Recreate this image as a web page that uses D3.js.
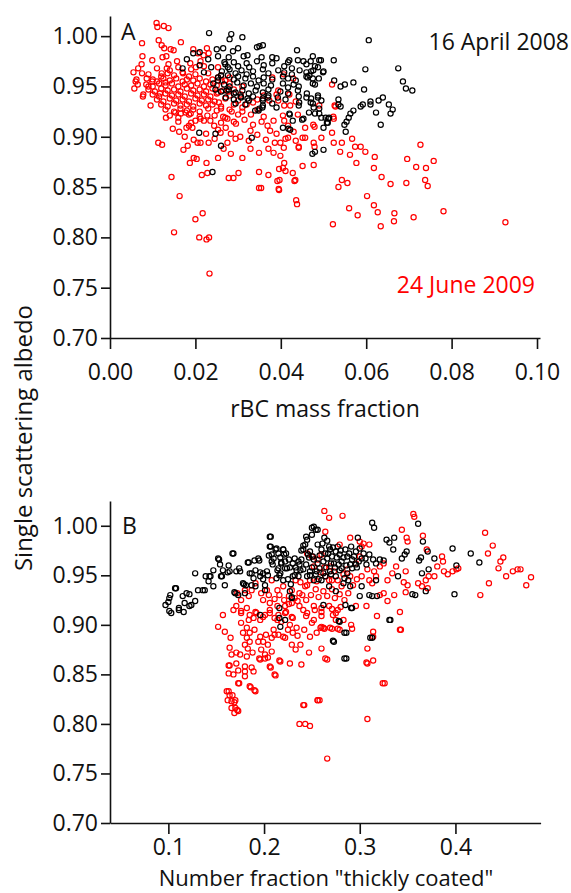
<!DOCTYPE html>
<html lang="en">
<head>
<meta charset="UTF-8">
<title>Single scattering albedo</title>
<script src="https://cdn.jsdelivr.net/npm/d3@7"></script>
<style>
  body { margin: 0; background: #fff; }
  text { font-family: "Open Sans", sans-serif; }
</style>
</head>
<body>
<script>
// ---- data ----
// panel A: [rBC mass fraction, single scattering albedo]
var aBlack = [
  [0.0232,1.003],[0.0284,1.002],[0.031,0.999],[0.028,0.997],[0.0606,0.996],[0.035,0.99],[0.0358,0.991],[0.0265,0.988],[0.025,0.987],[0.03,0.988],[0.0438,0.986],[0.0288,0.985],[0.0344,0.989],
  [0.0675,0.968],[0.0686,0.955],[0.0693,0.948],[0.0708,0.946],[0.0598,0.967],[0.0595,0.947],[0.057,0.954],[0.0524,0.976],[0.0525,0.956],[0.055,0.952],[0.054,0.95],[0.0535,0.937],[0.061,0.935],[0.061,0.932],[0.0623,0.924],[0.0639,0.939],[0.0629,0.936],[0.0653,0.932],[0.0662,0.927],[0.0657,0.923],[0.0634,0.912],[0.0587,0.93],[0.0592,0.932],[0.057,0.926],[0.0563,0.923],[0.0559,0.919],[0.0554,0.915],[0.0549,0.912],[0.0552,0.905],
  [0.017,0.968],[0.018,0.977],[0.0195,0.983],[0.021,0.984],[0.021,0.971],[0.022,0.964],[0.023,0.977],[0.0237,0.969],[0.0242,0.953],[0.0253,0.956],[0.026,0.961],[0.0268,0.974],[0.0276,0.969],[0.0247,0.947],[0.0273,0.946],[0.029,0.943],[0.0294,0.933],[0.0307,0.939],[0.0325,0.936],[0.034,0.926],[0.035,0.928],[0.0358,0.936],[0.037,0.939],[0.039,0.929],[0.042,0.923],[0.0418,0.908],[0.0428,0.916],[0.0405,0.909],
  [0.0209,0.904],[0.0247,0.903],[0.026,0.891],[0.0332,0.899],[0.0474,0.883],[0.048,0.885],[0.05,0.887],[0.024,0.865],
  [0.0443,0.934],[0.046,0.939],[0.047,0.934],[0.0477,0.929],[0.048,0.923],[0.049,0.923],[0.0495,0.919],[0.0505,0.919],[0.049,0.928],[0.05,0.909],[0.051,0.914],[0.045,0.917],[0.0487,0.939],[0.0495,0.936],[0.054,0.93],[0.0513,0.919],
  [0.0494,0.976],[0.0487,0.969],[0.0499,0.964],[0.0489,0.958],[0.048,0.952],[0.0476,0.966],[0.0467,0.961],[0.0471,0.965],[0.0463,0.959],[0.0461,0.943],
  [0.0253,0.98],[0.0278,0.979],[0.0313,0.98],[0.0322,0.981],[0.0355,0.979],[0.038,0.979],[0.039,0.978],[0.042,0.976],[0.044,0.976],[0.0453,0.975],[0.0475,0.98],[0.049,0.976],
  [0.027,0.972],[0.029,0.974],[0.03,0.97],[0.032,0.973],[0.0326,0.969],[0.0344,0.975],[0.036,0.971],[0.038,0.973],[0.0408,0.97],[0.0417,0.974],[0.0426,0.968],[0.046,0.972],[0.047,0.975],[0.048,0.97],
  [0.0262,0.965],[0.028,0.967],[0.0294,0.963],[0.0308,0.966],[0.032,0.962],[0.0335,0.965],[0.0358,0.967],[0.0371,0.963],[0.0394,0.966],[0.0408,0.964],[0.0426,0.962],[0.0444,0.966],[0.046,0.964],[0.05,0.965],
  [0.0253,0.959],[0.0276,0.961],[0.029,0.957],[0.03,0.96],[0.0317,0.958],[0.0335,0.96],[0.0348,0.956],[0.036,0.959],[0.038,0.957],[0.0405,0.96],[0.0417,0.958],[0.0435,0.956],[0.046,0.96],[0.0475,0.958],
  [0.0267,0.952],[0.028,0.95],[0.0298,0.954],[0.0313,0.951],[0.033,0.953],[0.0344,0.95],[0.036,0.953],[0.0377,0.951],[0.0405,0.953],[0.0417,0.949],[0.043,0.952],[0.0442,0.95],[0.0475,0.953],
  [0.026,0.945],[0.0278,0.947],[0.0294,0.944],[0.031,0.946],[0.0325,0.943],[0.0341,0.946],[0.0358,0.944],[0.0371,0.947],[0.0399,0.945],[0.0417,0.943],[0.044,0.946],
  [0.0271,0.939],[0.029,0.937],[0.0306,0.94],[0.0322,0.938],[0.0335,0.94],[0.0358,0.938],[0.0371,0.941],[0.0393,0.939],[0.0411,0.937],[0.0442,0.94],[0.0471,0.938],[0.0487,0.941],
  [0.0317,0.932],[0.0358,0.931],[0.038,0.933],[0.0442,0.931],[0.0475,0.933],[0.0535,0.932],
  [0.0357,0.929],[0.0348,0.926],[0.0421,0.922],[0.0466,0.924],[0.0511,0.918],[0.0508,0.914],[0.0453,0.918],[0.0422,0.907]
];
var aRed = [
  [0.0109,1.013],[0.0111,1.009],[0.0126,1.01],[0.0137,1.008],[0.0075,0.993],[0.0114,0.996],[0.0121,0.991],[0.0127,0.988],[0.0142,0.987],[0.0166,0.994],[0.0076,0.98],[0.0099,0.976],[0.0123,0.979],[0.0132,0.98],[0.0149,0.986],[0.0157,0.975],[0.0137,0.972],[0.0074,0.972],[0.0066,0.968],[0.0055,0.964],[0.0075,0.963],[0.0133,0.968],[0.0121,0.963],[0.0062,0.957],[0.006,0.955],[0.0065,0.952],[0.0086,0.958],[0.0099,0.955],[0.009,0.95],[0.0078,0.942],[0.0077,0.94],[0.0095,0.931],[0.0117,0.943],[0.013,0.954],
  [0.0057,0.948],[0.0113,0.894],[0.0122,0.892],[0.0131,0.919],[0.0144,0.86],
  [0.015,0.805],[0.0163,0.841],[0.02,0.818],[0.0217,0.824],[0.0209,0.8],[0.0226,0.798],[0.0232,0.8],[0.0233,0.764],[0.0354,0.849],[0.0395,0.848],[0.0397,0.857],[0.0434,0.857],[0.0436,0.837],[0.0438,0.833],[0.0522,0.813],[0.0535,0.85],[0.0556,0.854],[0.056,0.829],[0.058,0.822],[0.0602,0.841],[0.0618,0.832],[0.0627,0.825],[0.0634,0.811],[0.0657,0.853],[0.0665,0.816],[0.0666,0.824],[0.0694,0.854],[0.0711,0.82],[0.0738,0.857],[0.0744,0.851],[0.0781,0.826],[0.0926,0.815],[0.0543,0.857],
  [0.052,0.952],[0.0523,0.92],[0.0528,0.93],[0.052,0.904],[0.0543,0.894],[0.0567,0.898],[0.0574,0.89],[0.0587,0.89],[0.0562,0.882],[0.0577,0.874],[0.0539,0.885],[0.0598,0.885],[0.062,0.88],[0.0618,0.869],[0.0636,0.86],[0.0696,0.878],[0.0727,0.892],[0.0717,0.87],[0.074,0.869],[0.0758,0.876],[0.0495,0.899],[0.0479,0.89],[0.0457,0.899],[0.0457,0.909],[0.0476,0.912],[0.0442,0.89],[0.0435,0.896],
  [0.0253,0.879],[0.0283,0.883],[0.031,0.879],[0.0278,0.859],[0.0289,0.859],[0.0301,0.864],[0.0349,0.865],[0.0371,0.862],[0.0349,0.849],[0.0392,0.856],[0.0396,0.868],[0.0405,0.869],[0.0408,0.874],[0.0411,0.866],[0.0428,0.864],[0.0432,0.856],[0.0396,0.847],[0.0451,0.871],[0.0477,0.872],
  [0.0253,0.907],[0.0329,0.888],[0.0349,0.884],[0.0371,0.888],[0.0383,0.884],[0.0386,0.894],[0.0399,0.894],[0.0407,0.889],[0.0411,0.898],[0.0417,0.899],[0.0399,0.881],[0.0451,0.899],[0.0442,0.889],[0.0477,0.894],[0.0524,0.894],[0.0524,0.918],[0.0479,0.91],[0.044,0.922],[0.0405,0.921],[0.0408,0.916],[0.0417,0.911],[0.0383,0.916],[0.0369,0.911],[0.0329,0.906],[0.0259,0.904],[0.0271,0.909],[0.0283,0.903],[0.0294,0.898],[0.0266,0.888],
  [0.0147,0.908],[0.0162,0.905],[0.0175,0.9],[0.0172,0.887],[0.0182,0.891],[0.0196,0.897],[0.0205,0.894],[0.0212,0.894],[0.0196,0.879],[0.0203,0.878],[0.0187,0.874],[0.0226,0.874],[0.0215,0.862],[0.0228,0.864],
  [0.0153,0.924],[0.0166,0.923],[0.0177,0.924],[0.0189,0.923],[0.0185,0.911],[0.0193,0.909],[0.02,0.916],[0.0212,0.918],[0.0228,0.921],[0.0235,0.916],[0.0244,0.911],[0.0231,0.894],[0.0179,0.909],
  [0.038,0.959],[0.039,0.942],[0.0526,0.931],[0.049,0.931],[0.0435,0.935],[0.0408,0.931],[0.0422,0.931],[0.0335,0.934],[0.0306,0.942],[0.0278,0.945],[0.0262,0.955],[0.0253,0.969],[0.0253,0.959],[0.0253,0.944],[0.028,0.959],
  [0.0195,0.987],[0.0206,0.983],[0.0219,0.981],[0.0231,0.983],[0.0227,0.988],[0.0212,0.975],[0.0188,0.973],[0.0201,0.969],[0.0171,0.963],[0.0407,0.962],[0.0429,0.958],[0.0394,0.946],[0.042,0.942],[0.036,0.941],[0.0373,0.936],[0.0394,0.936],
  [0.026,0.928],[0.0285,0.925],[0.031,0.929],[0.033,0.922],[0.0345,0.927],[0.036,0.92],[0.0275,0.918],[0.0295,0.913],[0.0315,0.917],[0.0335,0.912],[0.0355,0.915],[0.0375,0.906],[0.0305,0.9],[0.0325,0.896],[0.0345,0.902],[0.0365,0.897],[0.039,0.903],[0.043,0.905],[0.0275,0.894],[0.0225,0.903],[0.0245,0.898],[0.0265,0.92],[0.032,0.932],[0.0345,0.937],[0.0255,0.934],
  [0.011,0.968],[0.014,0.966],[0.016,0.969],[0.019,0.967],[0.022,0.97],
  [0.009,0.962],[0.012,0.96],[0.0135,0.963],[0.015,0.961],[0.017,0.964],[0.0185,0.96],[0.02,0.962],[0.023,0.963],[0.026,0.961],
  [0.01,0.957],[0.011,0.955],[0.0125,0.958],[0.014,0.956],[0.0155,0.958],[0.017,0.955],[0.018,0.957],[0.0195,0.956],[0.021,0.958],[0.0225,0.955],[0.024,0.957],[0.027,0.956],
  [0.0085,0.952],[0.01,0.95],[0.0115,0.953],[0.013,0.951],[0.0145,0.953],[0.016,0.95],[0.0175,0.952],[0.019,0.951],[0.0205,0.953],[0.022,0.95],[0.0235,0.952],[0.025,0.951],[0.028,0.953],[0.031,0.95],
  [0.009,0.947],[0.0105,0.945],[0.012,0.948],[0.0135,0.946],[0.015,0.947],[0.0165,0.945],[0.018,0.948],[0.0195,0.946],[0.021,0.947],[0.0225,0.945],[0.024,0.948],[0.0265,0.946],[0.029,0.947],
  [0.01,0.942],[0.0115,0.94],[0.013,0.943],[0.0145,0.941],[0.016,0.942],[0.0175,0.94],[0.019,0.943],[0.0205,0.941],[0.022,0.942],[0.0235,0.94],[0.025,0.943],[0.028,0.941],
  [0.011,0.937],[0.0125,0.935],[0.014,0.938],[0.0155,0.936],[0.017,0.937],[0.0185,0.935],[0.02,0.938],[0.0215,0.936],[0.023,0.937],[0.0245,0.935],[0.027,0.938],[0.03,0.936],
  [0.012,0.932],[0.0135,0.93],[0.015,0.933],[0.0165,0.931],[0.018,0.932],[0.0195,0.93],[0.021,0.933],[0.0225,0.931],[0.024,0.932],[0.026,0.93],[0.029,0.932],
  [0.013,0.927],[0.015,0.925],[0.0165,0.928],[0.018,0.926],[0.0195,0.927],[0.021,0.925],[0.023,0.928],[0.025,0.926],[0.028,0.927],[0.031,0.925],
  [0.014,0.921],[0.016,0.919],[0.0185,0.922],[0.021,0.92],[0.0245,0.921],[0.027,0.919],[0.03,0.922],
  [0.016,0.915],[0.019,0.914],[0.022,0.916],[0.026,0.914],[0.029,0.915]
];

// panel B: [number fraction "thickly coated", single scattering albedo]
var bBlack = [
  [0.097,0.92],[0.1,0.923],[0.101,0.927],[0.102,0.93],[0.107,0.937],[0.115,0.929],[0.117,0.922],[0.119,0.932],[0.122,0.931],[0.124,0.92],[0.128,0.924],[0.128,0.952],[0.131,0.935],[0.136,0.935],[0.139,0.949],[0.142,0.944],[0.143,0.949],[0.147,0.955],[0.147,0.939],[0.152,0.967],[0.154,0.961],[0.155,0.949],[0.157,0.955],[0.159,0.94],[0.163,0.96],[0.164,0.954],[0.168,0.972],[0.169,0.933],[0.171,0.954],[0.174,0.957],[0.175,0.954],[0.178,0.942],[0.181,0.94],
  [0.183,0.963],[0.185,0.952],[0.187,0.94],[0.19,0.965],[0.191,0.955],[0.194,0.967],[0.196,0.949],[0.199,0.952],[0.201,0.94],[0.204,0.95],
  [0.103,0.912],[0.108,0.937],[0.111,0.917],[0.138,0.935],[0.144,0.949],[0.153,0.966],[0.156,0.949],[0.162,0.953],[0.167,0.972],[0.17,0.932],[0.173,0.93],[0.179,0.941],[0.18,0.932],[0.184,0.963],[0.187,0.952],[0.189,0.947],[0.191,0.939],[0.195,0.965],[0.196,0.953],[0.199,0.946],[0.201,0.935],[0.203,0.954],[0.207,0.989],[0.206,0.979],[0.208,0.971],[0.208,0.964],
  [0.101,0.914],[0.111,0.915],[0.116,0.913],[0.122,0.919],
  [0.206,0.989],[0.207,0.979],[0.205,0.97],[0.209,0.961],[0.21,0.967],[0.213,0.977],[0.214,0.955],[0.216,0.95],[0.218,0.962],[0.22,0.976],[0.221,0.971],[0.222,0.957],[0.225,0.946],[0.227,0.934],[0.229,0.927],[0.23,0.962],[0.232,0.967],[0.234,0.955],[0.236,0.949],[0.237,0.961],[0.239,0.966],[0.241,0.976],[0.243,0.981],[0.244,0.989],[0.246,0.971],[0.248,0.95],[0.25,0.998],[0.251,0.969],[0.254,0.996],[0.255,0.954],[0.257,0.946],
  [0.212,0.976],[0.215,0.972],[0.217,0.968],[0.218,0.963],[0.22,0.976],[0.223,0.972],[0.222,0.964],[0.224,0.957],[0.226,0.966],[0.215,0.957],[0.217,0.952],[0.213,0.947],[0.22,0.945],[0.228,0.941],[0.23,0.949],[0.229,0.928],[0.233,0.958],[0.236,0.964],[0.239,0.975],[0.241,0.98],[0.245,0.986],[0.248,0.974],[0.247,0.968],[0.252,0.966],[0.25,0.991],[0.256,0.996],[0.263,0.988],[0.252,0.999],[0.256,0.981],[0.26,0.976],
  [0.264,0.972],[0.266,0.967],[0.268,0.979],[0.269,0.976],[0.271,0.969],[0.273,0.962],[0.275,0.974],[0.277,0.979],[0.279,0.971],[0.281,0.964],[0.285,0.976],[0.287,0.969],[0.29,0.961],[0.292,0.966],[0.296,0.974],[0.298,0.988],[0.3,0.977],[0.302,0.967],
  [0.258,0.97],[0.262,0.964],[0.265,0.958],[0.267,0.972],[0.27,0.962],[0.272,0.978],[0.274,0.958],[0.276,0.968],[0.278,0.961],[0.28,0.975],[0.283,0.968],[0.286,0.96],[0.289,0.972],[0.291,0.979],[0.294,0.969],[0.297,0.958],[0.299,0.964],[0.304,0.972],[0.307,0.961],[0.262,0.952],[0.256,0.962],[0.25,0.958],[0.244,0.961],[0.238,0.955],[0.232,0.95],[0.227,0.958],[0.261,0.982],[0.266,0.985],[0.27,0.951],[0.279,0.955],[0.284,0.947],
  [0.241,0.956],[0.245,0.949],[0.248,0.954],[0.252,0.945],[0.254,0.951],[0.258,0.957],[0.26,0.945],[0.264,0.949],[0.269,0.954],[0.275,0.949],[0.281,0.957],[0.287,0.952],[0.288,0.945],[0.29,0.939],[0.283,0.942],[0.268,0.939],[0.262,0.92],[0.275,0.934],
  [0.292,0.957],[0.296,0.961],[0.306,0.967],[0.31,0.971],[0.313,1.003],[0.315,0.998],[0.314,0.966],[0.317,0.962],[0.321,0.966],[0.317,0.945],[0.313,0.929],[0.31,0.93],[0.302,0.939],[0.3,0.929],[0.292,0.917],[0.285,0.92],[0.279,0.903],[0.286,0.892],[0.273,0.883],[0.286,0.866],[0.313,0.887],[0.332,0.905],[0.318,0.929],[0.325,0.965],[0.328,0.986],[0.336,0.988],[0.335,0.976],[0.331,0.983],[0.34,0.949],[0.344,0.967],[0.347,0.971],[0.349,0.974],[0.355,0.931],[0.358,0.93],[0.361,1.002],[0.362,0.965],[0.364,0.968],[0.366,0.984],[0.365,0.952],[0.369,0.934],[0.371,0.974],[0.372,0.956],[0.378,0.967],[0.397,0.977],[0.399,0.931],[0.401,0.96],[0.416,0.972],[0.425,0.963],
  [0.196,0.91],[0.216,0.917],[0.216,0.907],[0.222,0.905],[0.217,0.898],
  [0.291,0.917],[0.278,0.904],[0.331,0.905],[0.284,0.892],[0.272,0.884],[0.311,0.887],[0.284,0.866]
];
var bRed = [
  [0.157,0.91],[0.152,0.898],[0.159,0.893],[0.165,0.887],[0.164,0.877],[0.166,0.87],[0.171,0.872],[0.175,0.87],[0.182,0.868],[0.188,0.872],[0.195,0.866],[0.201,0.866],[0.204,0.867],[0.163,0.859],[0.163,0.851],[0.168,0.85],[0.173,0.854],[0.171,0.861],[0.18,0.858],[0.18,0.853],[0.18,0.848],[0.187,0.857],[0.189,0.853],[0.173,0.841],[0.185,0.838],[0.19,0.834],
  [0.161,0.833],[0.164,0.829],[0.167,0.829],[0.162,0.824],[0.166,0.823],[0.169,0.822],[0.17,0.816],[0.206,0.858],[0.211,0.85],[0.216,0.864],[0.227,0.861],[0.239,0.86],[0.238,0.88],[0.241,0.819],[0.256,0.824],
  [0.171,0.919],[0.176,0.914],[0.182,0.917],[0.185,0.91],[0.189,0.907],[0.192,0.912],[0.196,0.905],[0.201,0.91],[0.206,0.915],[0.211,0.907],[0.215,0.91],[0.218,0.903],[0.223,0.913],[0.227,0.9],[0.23,0.907],[0.234,0.897],[0.241,0.915],[0.244,0.909],[0.25,0.902],[0.253,0.915],[0.176,0.902],[0.182,0.897],[0.185,0.892],[0.19,0.895],[0.196,0.888],[0.199,0.883],[0.202,0.89],[0.204,0.88],[0.208,0.887],[0.211,0.89],[0.178,0.892],[0.182,0.887],[0.18,0.88],[0.183,0.876],[0.185,0.883],[0.194,0.883],[0.197,0.875],[0.201,0.87],[0.208,0.873],[0.22,0.888],[0.222,0.887],[0.23,0.892],[0.229,0.88],
  [0.26,0.909],[0.259,0.897],[0.263,0.896],[0.271,0.896],[0.277,0.896],[0.272,0.91],[0.275,0.905],[0.318,0.909],[0.291,0.9],[0.292,0.896],[0.314,0.893],[0.314,0.888],[0.342,0.895],[0.26,0.876],[0.264,0.866],[0.308,0.876],[0.307,0.862],[0.314,0.864],[0.324,0.841],[0.256,0.824],[0.26,0.917],[0.271,0.916],[0.277,0.915],[0.28,0.918],[0.296,0.919],[0.307,0.919],
  [0.164,0.859],[0.174,0.841],[0.186,0.837],[0.191,0.833],[0.196,0.865],[0.207,0.857],[0.212,0.849],[0.217,0.863],[0.242,0.819],[0.237,0.8],[0.243,0.8],[0.248,0.798],[0.258,0.824],[0.266,0.765],[0.266,0.865],[0.308,0.805],[0.308,0.861],[0.326,0.841],[0.163,0.833],[0.17,0.824],[0.166,0.816],[0.169,0.811],[0.172,0.814],[0.173,0.813],
  [0.263,1.015],[0.268,1.008],[0.282,1.01],[0.264,0.994],[0.356,1.012],[0.357,1.009],[0.344,0.996],[0.349,0.988],[0.35,0.984],[0.366,0.99],[0.37,0.976],[0.386,0.969],[0.387,0.964],[0.381,0.959],[0.388,0.954],[0.392,0.951],[0.397,0.954],[0.401,0.956],[0.403,0.957],[0.372,0.949],[0.378,0.949],[0.369,0.945],[0.361,0.942],[0.365,0.939],[0.371,0.937],[0.348,0.933],[0.346,0.943],[0.35,0.94],[0.343,0.895],[0.348,0.954],[0.431,0.993],[0.434,0.972],[0.439,0.98],[0.435,0.942],[0.426,0.93],[0.445,0.957],[0.447,0.964],[0.45,0.968],[0.453,0.949],[0.46,0.954],[0.465,0.956],[0.468,0.956],[0.474,0.94],[0.479,0.948],
  [0.168,0.915],[0.176,0.925],[0.184,0.929],[0.187,0.935],[0.191,0.942],[0.197,0.932],[0.203,0.935],[0.208,0.945],[0.214,0.935],[0.22,0.939],[0.226,0.929],[0.229,0.935],[0.233,0.945],[0.237,0.932],[0.243,0.939],[0.248,0.945],[0.252,0.959],[0.256,0.966],[0.26,0.971],[0.264,0.949],[0.268,0.945],[0.269,0.959],[0.273,0.954],[0.277,0.945],[0.281,0.939],[0.283,0.951],[0.287,0.956],[0.29,0.949],[0.296,0.962],[0.3,0.969],[0.302,0.979],[0.304,0.982],[0.308,0.956],[0.31,0.945],[0.313,0.942],[0.317,0.949],[0.321,0.959],[0.325,0.962],[0.329,0.945],[0.334,0.952],[0.338,0.959],[0.325,0.932],[0.321,0.93],[0.329,0.924],[0.336,0.93],[0.342,0.913],
  [0.176,0.912],[0.184,0.905],[0.191,0.913],[0.199,0.908],[0.206,0.912],[0.214,0.905],[0.222,0.912],[0.229,0.908],[0.237,0.919],[0.245,0.912],[0.252,0.919],[0.26,0.913],[0.268,0.919],[0.275,0.912],[0.283,0.905],[0.252,0.905],[0.26,0.898],[0.262,0.897],[0.279,0.895],[0.269,0.897],
  [0.172,0.932],[0.18,0.935],[0.199,0.925],[0.206,0.922],[0.214,0.919],[0.229,0.922],[0.222,0.919],
  [0.245,0.972],[0.25,0.969],[0.29,0.988],[0.3,0.984],[0.279,0.981],[0.31,0.981],[0.302,0.949],[0.315,0.954],
  [0.205,0.93],[0.211,0.926],[0.216,0.93],[0.221,0.925],[0.226,0.921],[0.232,0.927],[0.235,0.924],[0.24,0.93],[0.244,0.925],[0.249,0.93],[0.254,0.936],[0.257,0.928],[0.262,0.934],[0.266,0.929],[0.271,0.936],[0.274,0.927],[0.279,0.931],[0.284,0.925],[0.288,0.932],[0.293,0.94],[0.297,0.946],[0.255,0.944],[0.259,0.953],[0.263,0.958],[0.271,0.945],[0.245,0.94],[0.238,0.943],[0.21,0.895],[0.215,0.89],[0.225,0.895],[0.235,0.889],[0.242,0.895],[0.248,0.888],[0.255,0.892],[0.233,0.875],[0.247,0.872]
];

// ticks
var yTicks = [0.70, 0.75, 0.80, 0.85, 0.90, 0.95, 1.00];
var aXTicks = [0.00, 0.02, 0.04, 0.06, 0.08, 0.10];
var bXTicks = [0.1, 0.2, 0.3, 0.4];

drawChart();

function drawChart() {
  var width = 571, height = 893;
  var fontSize = 23;

  var svg = d3.select("body").append("svg")
    .attr("width", width)
    .attr("height", height);

  // panel A
  var xA = d3.scaleLinear().domain([0, 0.1007]).range([110, 540]);
  var yA = d3.scaleLinear().domain([0.70, 1.02]).range([338, 16]);
  drawPanel(xA, yA, aXTicks, d3.format(".2f"), 338, aRed, aBlack, 26);

  // panel B
  var xB = d3.scaleLinear().domain([0.039, 0.489]).range([110, 540.6]);
  var yB = d3.scaleLinear().domain([0.70, 1.025]).range([823, 501]);
  drawPanel(xB, yB, bXTicks, d3.format(".1f"), 823, bRed, bBlack, 15.7);

  function drawPanel(x, y, xTicks, xFmt, yBase, red, black, xPad) {
    var g = svg.append("g");

    var yAxis = d3.axisLeft(y)
      .tickValues(yTicks)
      .tickFormat(d3.format(".2f"))
      .tickSize(9)
      .tickSizeOuter(0)
      .tickPadding(3);

    var xAxis = d3.axisBottom(x)
      .tickValues(xTicks)
      .tickFormat(xFmt)
      .tickSize(11)
      .tickSizeOuter(0)
      .tickPadding(xPad - 11);

    var ya = g.append("g")
      .attr("transform", "translate(" + x.range()[0] + ",0)")
      .call(yAxis);
    var xa = g.append("g")
      .attr("transform", "translate(0," + yBase + ")")
      .call(xAxis);

    [ya, xa].forEach(function (a) {
      a.selectAll("path, line").attr("stroke", "#111").attr("stroke-width", 1.6);
      a.selectAll("text")
        .attr("fill", "#111")
        .style("font-size", fontSize + "px")
        .style("font-family", "'Open Sans', sans-serif");
    });

    g.append("g").selectAll("circle")
      .data(red)
      .join("circle")
      .attr("cx", function (d) { return x(d[0]); })
      .attr("cy", function (d) { return y(d[1]); })
      .attr("r", 2.6)
      .attr("fill", "none")
      .attr("stroke", "#ff0000")
      .attr("stroke-width", 1.2);

    g.append("g").selectAll("circle")
      .data(black)
      .join("circle")
      .attr("cx", function (d) { return x(d[0]); })
      .attr("cy", function (d) { return y(d[1]); })
      .attr("r", 2.6)
      .attr("fill", "none")
      .attr("stroke", "#000")
      .attr("stroke-width", 1.2);
  }

  function label(txt, x, y, anchor, color, size) {
    return svg.append("text")
      .attr("x", x)
      .attr("y", y)
      .attr("text-anchor", anchor || "start")
      .attr("fill", color || "#111")
      .style("font-size", (size || fontSize) + "px")
      .text(txt);
  }

  label("A", 121, 40);
  label("16 April 2008", 569, 50, "end");
  label("24 June 2009", 535, 293, "end", "#ff0000");
  label("rBC mass fraction", 325, 417, "middle");
  label("B", 122, 534);
  label("Number fraction \"thickly coated\"", 326, 886, "middle", null, 22);

  svg.append("text")
    .attr("transform", "translate(32,438) rotate(-90)")
    .attr("text-anchor", "middle")
    .attr("fill", "#111")
    .style("font-size", "24px")
    .text("Single scattering albedo");
}
</script>
</body>
</html>
